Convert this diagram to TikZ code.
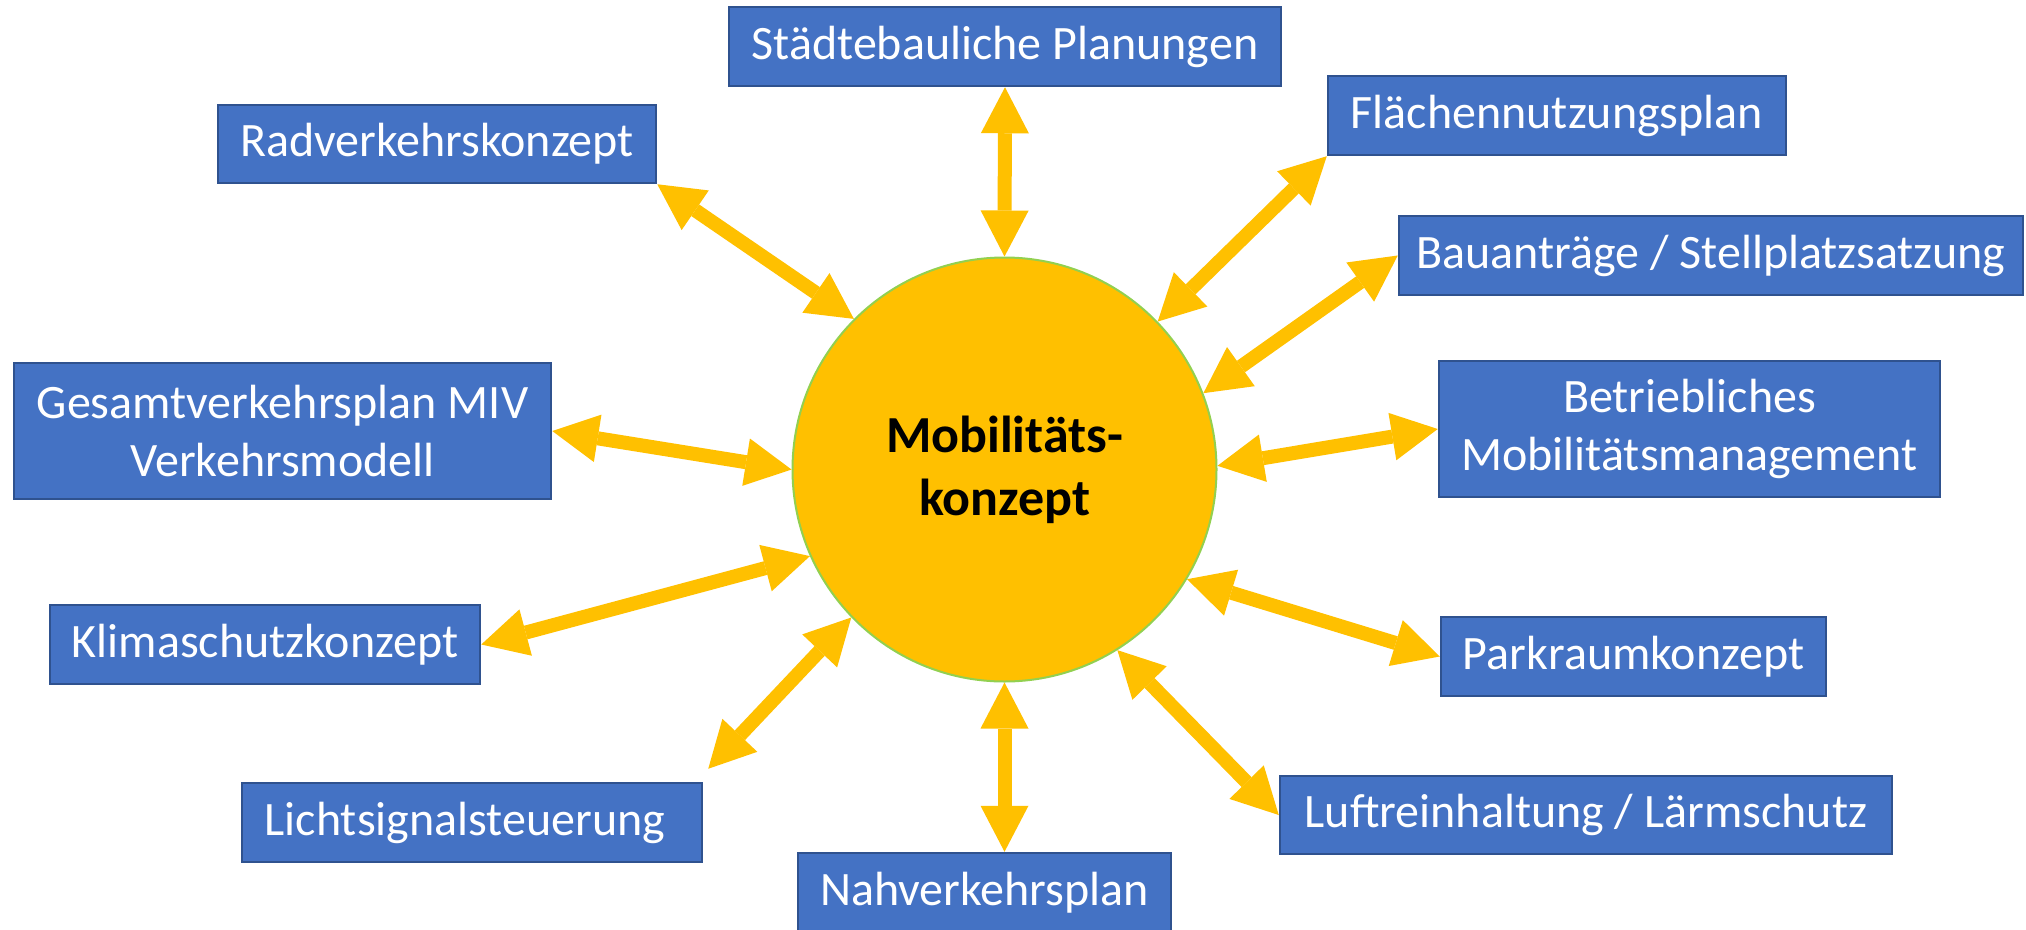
\documentclass[tikz,border=0pt]{standalone}
\usepackage{fontspec}
\setmainfont{Carlito}
\usetikzlibrary{arrows.meta}
\definecolor{boxc}{HTML}{4472C4}
\definecolor{boxline}{HTML}{2F528F}
\definecolor{arrowc}{HTML}{FFC000}
\definecolor{ringc}{HTML}{92D050}
\tikzset{
  infobox/.style={rectangle, fill=boxc, draw=boxline, line width=2.5pt, text=white,
    inner sep=0pt, align=center, font=\fontsize{48pt}{58pt}\selectfont},
  biarrow/.style={draw=arrowc, line width=14pt,
    {Triangle[length=46pt,width=48pt,line width=0pt]}-{Triangle[length=46pt,width=48pt,line width=0pt]}}
}
\begin{document}
\begin{tikzpicture}[x=1pt,y=-1pt]
\useasboundingbox[fill=white] (0,0) rectangle (2026,929);

\node[circle, minimum size=424pt, inner sep=0pt, fill=arrowc, draw=ringc, line width=2pt,
  align=center, font=\bfseries\fontsize{52pt}{63pt}\selectfont] (c) at (1004.5,469.5) {Mobilitäts-\\konzept};

\node[infobox, minimum width=552pt, minimum height=79pt] (stadt) at (1005,46.5) {Städtebauliche Planungen};
\node[infobox, minimum width=438pt, minimum height=78pt] (rad) at (437,144) {Radverkehrskonzept};
\node[infobox, minimum width=458pt, minimum height=79pt] (flaech) at (1557,115.5) {Flächennutzungsplan};
\node[infobox, minimum width=624pt, minimum height=79pt] (bau) at (1711,255.5) {Bauanträge / Stellplatzsatzung};
\node[infobox, minimum width=537pt, minimum height=136pt] (gesamt) at (282.5,431) {Gesamtverkehrsplan MIV\\Verkehrsmodell};
\node[infobox, minimum width=501pt, minimum height=136pt] (betr) at (1689.5,429) {Betriebliches\\Mobilitätsmanagement};
\node[infobox, minimum width=430pt, minimum height=79pt] (klima) at (265,644.5) {Klimaschutzkonzept};
\node[infobox, minimum width=385pt, minimum height=79pt] (park) at (1633.5,656.5) {Parkraumkonzept};
\node[infobox, minimum width=460pt, minimum height=79pt] (licht) at (472,822.5) {Lichtsignalsteuerung\hspace{14pt}};
\node[infobox, minimum width=612pt, minimum height=78pt] (luft) at (1586,815) {Luftreinhaltung / Lärmschutz};
\node[infobox, minimum width=373pt, minimum height=79pt] (nah) at (984.5,892.5) {Nahverkehrsplan};

\draw[biarrow] (stadt.south) -- (c.90);
\draw[biarrow] (rad.south east) -- (c.135.6);
\draw[biarrow] (flaech.south west) -- (c.44.4);
\draw[biarrow] (bau.west) -- (c.21.8);
\draw[biarrow] (gesamt.east) -- (c.180);
\draw[biarrow] (betr.west) -- (c.1);
\draw[biarrow] (klima.east) -- (c.204.1);
\draw[biarrow] ([xshift=5pt,yshift=13pt]licht.north east) -- (c.224.8);
\draw[biarrow] (c.south |- nah.north) -- (c.270);
\draw[biarrow] (park.west) -- (c.329.5);
\draw[biarrow] (luft.west) -- (c.302.6);
\end{tikzpicture}
\end{document}
